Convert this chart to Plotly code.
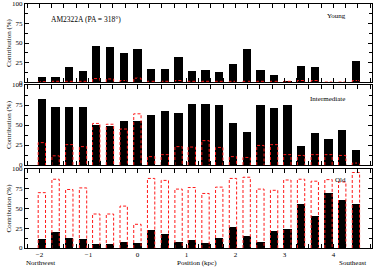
import plotly.graph_objects as go
from plotly.subplots import make_subplots

positions = [-1.95, -1.67, -1.39, -1.11, -0.84, -0.56, -0.28, 0.0, 0.28, 0.56, 0.84, 1.11,
             1.39, 1.67, 1.95, 2.23, 2.51, 2.79, 3.06, 3.34, 3.62, 3.90, 4.18, 4.46]

young_black = [6, 7, 19, 14, 46, 45, 37, 42, 17, 17, 32, 14, 16, 13, 23, 42, 16, 9, 2, 20, 19, 0, 0, 27]
young_red = [0.5, 1, 1, 1, 4.5, 4, 2, 5, 1, 1, 2, 1, 1, 1, 1, 1, 1, 1, 1, 2, 2, 0, 0, 2]

inter_black = [82, 72, 72, 73, 50, 49, 55, 55, 62, 67, 65, 76, 76, 75, 52, 41, 75, 71, 75, 24, 40, 32, 44, 19]
inter_red = [28, 11.5, 25.5, 23, 52, 51, 45, 64, 10.5, 13, 23, 22.5, 30.5, 22, 10.5, 9.5, 24.5, 25.5, 13, 12, 13, 13, 12, 2.5]

old_black = [12, 20, 13, 11, 5, 5.5, 7.5, 6, 22.5, 18, 7.5, 10, 6, 12.5, 27, 15, 7.5, 21, 24.5, 55.5, 40.5, 69, 60.5, 56]
old_red = [70, 87, 74, 76, 43, 43, 53, 30, 88, 85.5, 74.5, 76.5, 69, 77, 88, 89.5, 74.5, 73, 86, 87, 84.5, 86.5, 83.5, 95.5]

y_ticks = [0, 25, 50, 75, 100]
x_ticks = [-2, -1, 0, 1, 2, 3, 4]

FONT = "Liberation Serif"
BW = 0.17
RW = 0.15

fig = make_subplots(rows=3, cols=1, shared_xaxes=True, vertical_spacing=0.0)

panels = [(young_black, young_red), (inter_black, inter_red), (old_black, old_red)]
for i, (blk, red) in enumerate(panels, start=1):
    fig.add_trace(go.Bar(x=positions, y=blk, width=BW, marker=dict(color="black", line=dict(width=0)),
                         showlegend=False), row=i, col=1)
    xs, ys = [], []
    for p, v in zip(positions, red):
        xs += [p - RW / 2, p - RW / 2, p + RW / 2, p + RW / 2, None]
        ys += [0, v, v, 0, None]
    fig.add_trace(go.Scatter(x=xs, y=ys, mode="lines",
                             line=dict(color="#ff1a1a", width=1, dash="3px,2px"),
                             showlegend=False, hoverinfo="skip"), row=i, col=1)

domains = {1: [0.680, 1.0], 2: [0.340, 0.668], 3: [0.0, 0.324]}
for i in (1, 2, 3):
    fig.update_yaxes(row=i, col=1, domain=domains[i], range=[0, 100], tickvals=y_ticks,
                     ticks="inside", ticklen=4, mirror="allticks", showline=True,
                     linecolor="black", linewidth=1, tickcolor="black", showgrid=False,
                     zeroline=False, automargin=False,
                     tickfont=dict(family=FONT, size=7, color="black"),
                     minor=dict(dtick=12.5, ticks="inside", ticklen=3, tickcolor="black"))
    fig.update_xaxes(row=i, col=1, range=[-2.294, 4.788], tickvals=x_ticks,
                     ticks="inside", ticklen=4, mirror="allticks", showline=True,
                     linecolor="black", linewidth=1, tickcolor="black", showgrid=False,
                     zeroline=False, automargin=False,
                     tickfont=dict(family=FONT, size=7, color="black"),
                     minor=dict(dtick=0.25, tick0=0, ticks="inside", ticklen=4, tickcolor="black"))

ann = []
def txt(t, x, y, xa="center", angle=0, size=7):
    ann.append(dict(text=t, x=x, y=y, xref="paper", yref="paper", xanchor=xa, yanchor="middle",
                    showarrow=False, textangle=angle, font=dict(family=FONT, size=size, color="black")))

txt("AM2322A (PA = 318°)", 0.069, 0.9385, xa="left", size=7.5)
txt("Young", 0.899, 0.951)
txt("Intermediate", 0.873, 0.611)
txt("Old", 0.908, 0.279)
txt("Position (kpc)", 0.497, -0.0615)
txt("Northwest", 0.046, -0.0615)
txt("Southeast", 0.945, -0.0615)
for d in domains.values():
    txt("Contribution (%)", -0.046, (d[0] + d[1]) / 2, angle=-90)

fig.update_layout(width=374, height=268, margin=dict(l=25, r=2, t=4, b=20, autoexpand=False),
                  plot_bgcolor="white", paper_bgcolor="white", bargap=0,
                  annotations=ann, showlegend=False, hovermode=False)

fig.write_html("out.html", config={"displayModeBar": False, "staticPlot": True},
               post_script="document.body.style.margin='0';document.body.style.padding='0';"
                           "document.body.style.overflow='hidden';")
